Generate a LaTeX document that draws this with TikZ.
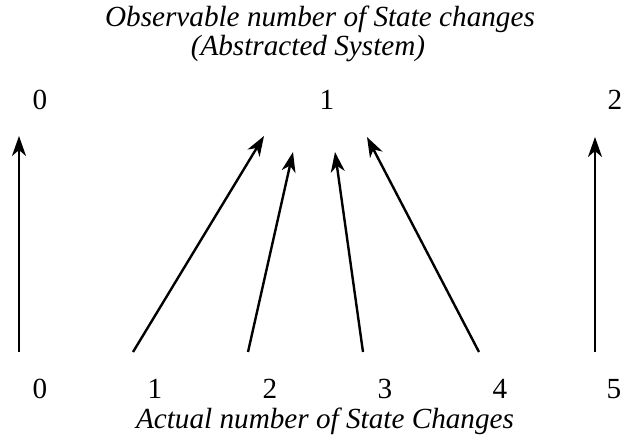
\documentclass[tikz,border=0pt]{standalone}
\usepackage{fontspec}
\setmainfont{Liberation Serif}
\usetikzlibrary{arrows.meta}
\tikzset{
  >={Stealth[length=10pt,width=7pt,inset=3pt]},
  num/.style  ={font=\fontsize{14.6}{17}\selectfont, inner sep=0pt},
  title/.style={font=\fontsize{14.6}{17}\selectfont\itshape, inner sep=0pt},
  map/.style  ={->, line width=1.2pt},
}

\begin{document}
\begin{tikzpicture}[x=0.5pt,y=-0.5pt]
  \useasboundingbox (0,0) rectangle (623,440);
  % headings
  \node[title, align=center, anchor=north] (obs) at (320,6)
    {Observable number of State changes\\[-2.5pt](Abstracted System)\hspace*{12pt}};
  \node[title, anchor=base] (act) at (325,428) {Actual number of State Changes};

  % observable states (top)
  \foreach \x/\n in {40/0,327/1,615/2}
    \node[num] (o\n) at (\x,100) {\n};
  % actual states (bottom)
  \foreach \x/\n in {40/0,155/1,270/2,385/3,500/4,614/5}
    \node[num] (a\n) at (\x,389) {\n};

  % arrow ends
  \coordinate (s0) at (19,352);  \coordinate (e0) at (19,136);
  \coordinate (s1) at (133,352); \coordinate (e1) at (264,136);
  \coordinate (s2) at (248,352); \coordinate (e2) at (293,152);
  \coordinate (s3) at (363,352); \coordinate (e3) at (335,152);
  \coordinate (s4) at (479,352); \coordinate (e4) at (367,137);
  \coordinate (s5) at (595,352); \coordinate (e5) at (595,137);

  \foreach \i in {0,...,5}
    \draw[map] (s\i) -- (e\i);
\end{tikzpicture}
\end{document}
